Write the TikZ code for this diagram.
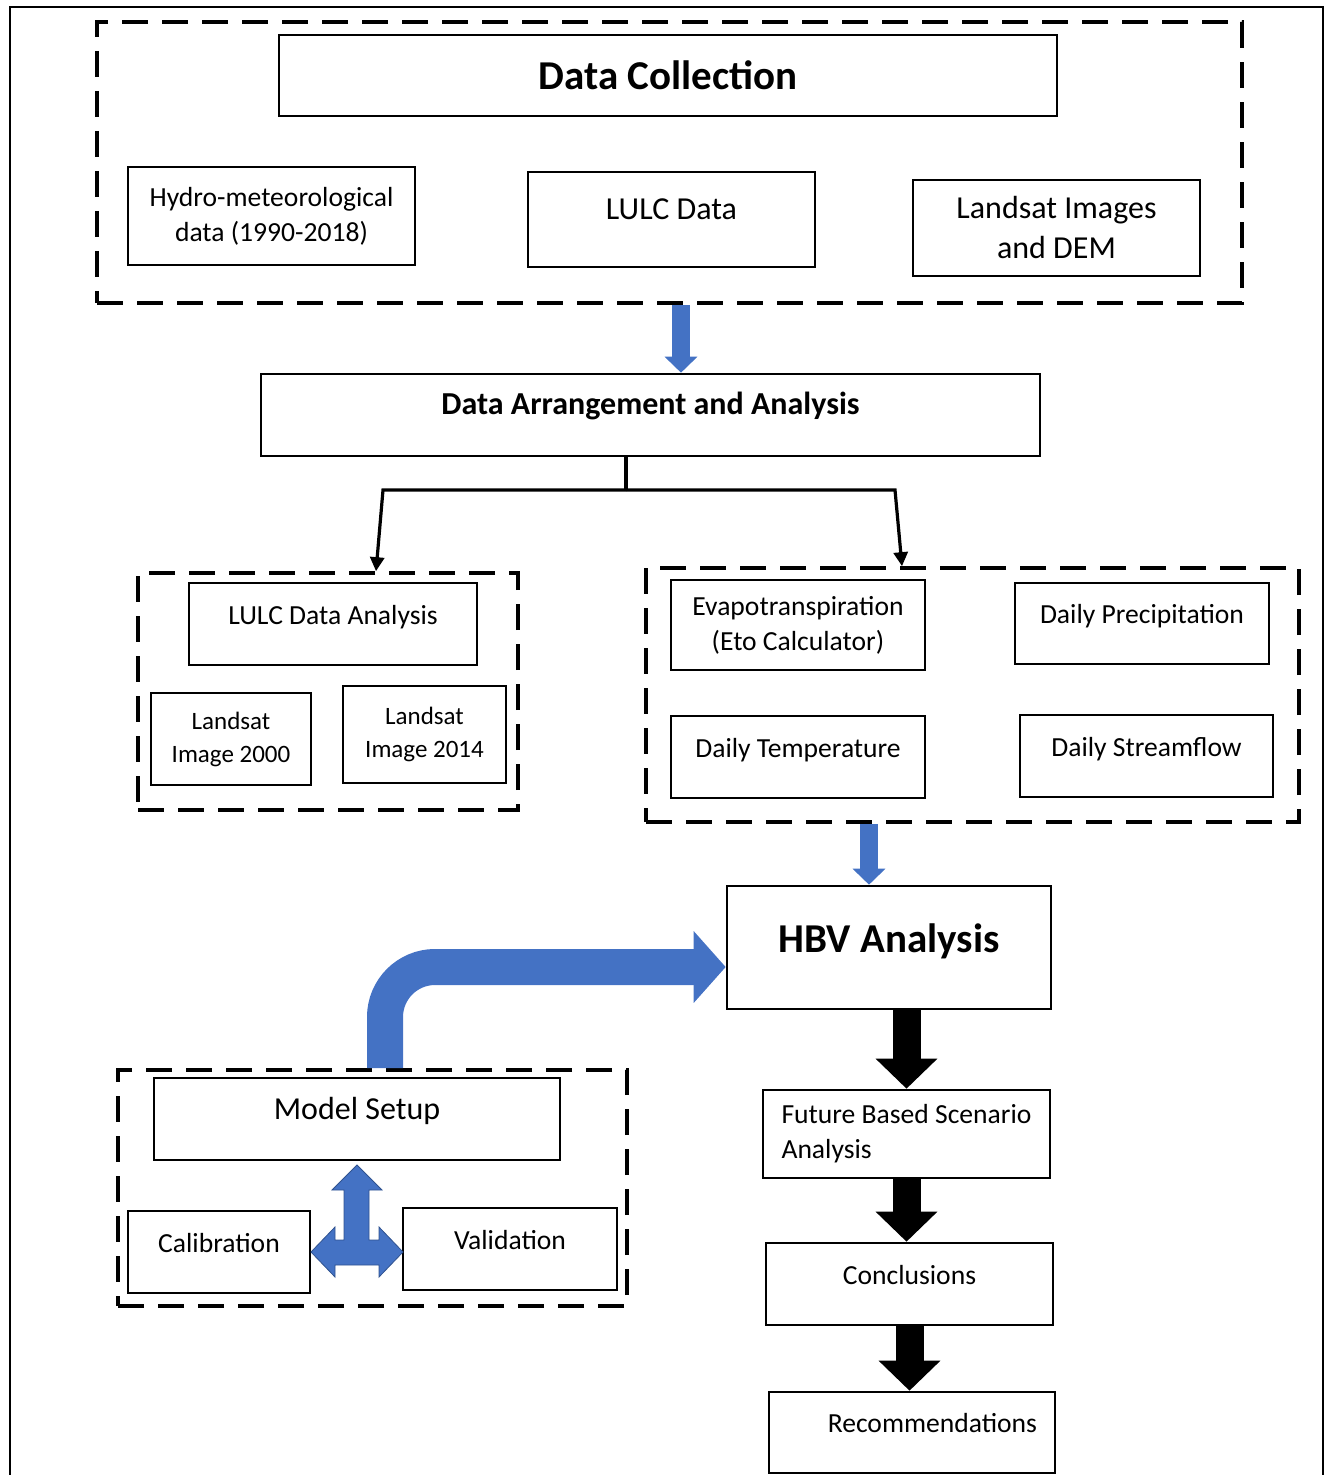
\documentclass[tikz,border=0pt]{standalone}
\usepackage{fontspec}
\setmainfont{Carlito}
\usetikzlibrary{arrows.meta, positioning, calc}
\definecolor{flowblue}{HTML}{4472C4}
\definecolor{flowedge}{HTML}{2F528F}

\begin{document}
\begin{tikzpicture}[
    x=0.5pt, y=-0.5pt,
    box/.style={draw, line width=1.3pt, align=center, inner sep=2pt,
                font=\fontsize{13.8}{17.5}\selectfont},
    sz/.style 2 args={minimum width=#1*0.5pt, minimum height=#2*0.5pt},
    lift/.style={text height=8pt, text depth=8pt},
    group/.style={draw, line width=1.8pt, dash pattern=on 13pt off 7pt},
    bigfont/.style={font=\fontsize{20.5}{24}\selectfont\bfseries},
    midfont/.style={font=\fontsize{16}{20}\selectfont},
    smallfont/.style={font=\fontsize{12.5}{16.5}\selectfont},
    bluearr/.style={-{Triangle[length=8pt, width=16pt]}, line width=9pt, flowblue},
    blackarr/.style={-{Triangle[length=15pt, width=30pt]}, line width=14pt},
    conn/.style={-{Triangle[length=7pt, width=7pt]}, line width=1.6pt}
  ]
    \useasboundingbox (0,0) rectangle (1334,1475);
    \draw[line width=1.2pt] (10,1475) -- (10,7) -- (1323,7) -- (1323,1475);

    % data collection
    \node[group, sz={1145}{281}] (collect) at (669.5,162.5) {};
    \node[box, bigfont, sz={778}{81}] (title) at (668,75.5) {Data Collection};
    \node[box, sz={287}{98}] (hydro) at (271.5,216) {Hydro-meteorological\\data (1990-2018)};
    \node[box, midfont, lift, sz={287}{95}] (lulc) at (671.5,219.5) {LULC Data};
    \node[box, midfont, sz={287}{96}] (landsat) at (1056.5,228) {Landsat Images\\and DEM};

    % arrangement
    \node[box, lift, font=\fontsize{16}{20}\selectfont\bfseries, sz={779}{82}] (arrange)
      at (650.5,415) {Data Arrangement and Analysis};
    \draw[bluearr] ($(collect.south)+(11.5,0)$) -- ($(arrange.north)+(30.5,0)$);

    % lulc group
    \node[group, sz={380}{237}] (lulcgrp) at (328,691.5) {};
    \node[box, lift, sz={288}{82}] (lulcana) at (333,624) {LULC Data Analysis};
    \node[box, smallfont, sz={160}{92}] (img2000) at (231,739) {Landsat\\Image 2000};
    \node[box, smallfont, sz={163}{97}] (img2014) at (424.5,734.5) {Landsat\\Image 2014};

    % hydro-met group
    \node[group, sz={653}{254}] (metgrp) at (972.5,695) {};
    \node[box, sz={254}{90}] (evapo) at (798,625) {Evapotranspiration\\(Eto Calculator)};
    \node[box, lift, sz={254}{81}] (precip) at (1142,623.5) {Daily Precipitation};
    \node[box, lift, sz={254}{82}] (temp) at (798,757) {Daily Temperature};
    \node[box, lift, sz={253}{82}] (flow) at (1146.5,756) {Daily Streamflow};

    % split
    \coordinate (split) at (626,490);
    \coordinate (bendl) at (383,490);
    \coordinate (bendr) at (895,490);
    \draw[line width=1.6pt] ($(arrange.south)+(-24.5,0)$) -- (split);
    \draw[conn] (split) -- (bendl) -- ($(lulcgrp.north)+(48,0)$);
    \draw[conn] (split) -- (bendr) -- ($(metgrp.north)+(-70.5,0)$);

    % hbv
    \node[box, bigfont, text height=13pt, text depth=8pt, sz={324}{123}] (hbv)
      at (889,947.5) {HBV Analysis};
    \draw[bluearr] ($(metgrp.south)+(-103.5,0)$) -- ($(hbv.north)+(-20,0)$);

    % model setup
    \node[group, sz={509}{236}] (modelgrp) at (372.5,1188) {};
    \node[box, midfont, lift, sz={406}{82}] (setup) at (357,1119) {Model Setup};
    \node[box, lift, sz={182}{82}] (calib) at (219,1252) {Calibration};
    \node[box, lift, sz={214}{82}] (valid) at (510,1249) {Validation};
    \draw[flowblue, line width=18pt, rounded corners=25pt,
          -{Triangle[length=16pt, width=35pt]}]
      ($(modelgrp.north)+(12.5,0)$) |- ($(hbv.west)+(0,19.5)$);
    \fill[flowblue, draw=flowedge, line width=0.4pt]
      (357,1165) -- (382,1190) -- (369,1190) -- (369,1240) -- (379,1240)
      -- (379,1227) -- (403,1252) -- (379,1277) -- (379,1265) -- (335,1265)
      -- (335,1277) -- (311,1252) -- (335,1227) -- (335,1240) -- (344,1240)
      -- (344,1190) -- (332,1190) -- cycle;

    % results
    \node[box, sz={287}{88}, align=left] (future) at (906.5,1134)
      {Future Based Scenario\\Analysis};
    \node[box, lift, sz={287}{82}] (concl) at (909.5,1284) {Conclusions};
    \node[box, lift, sz={286}{81}, text width=125pt, align=right] (recom)
      at (912,1432.5) {Recommendations};
    \draw[blackarr] (hbv.south -| future.north) -- (future.north);
    \draw[blackarr] (future.south) -- (future.south |- concl.north);
    \draw[blackarr] (concl.south) -- (concl.south |- recom.north);
\end{tikzpicture}
\end{document}
